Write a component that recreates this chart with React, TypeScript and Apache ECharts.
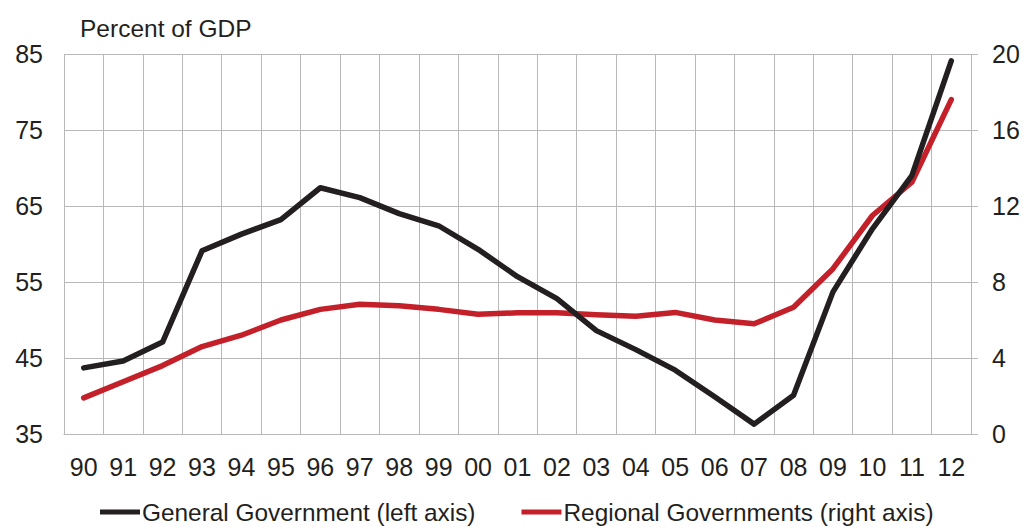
import React, { useEffect, useRef } from "react";
import * as echarts from "echarts";

const categories = ["90","91","92","93","94","95","96","97","98","99","00","01","02","03","04","05","06","07","08","09","10","11","12"];
const generalGov = [43.7, 44.6, 47.1, 59.1, 61.3, 63.2, 67.4, 66.1, 64.0, 62.4, 59.3, 55.7, 52.8, 48.6, 46.1, 43.4, 39.9, 36.3, 40.1, 53.7, 62.0, 69.0, 84.1];
const regionalGov = [1.9, 2.75, 3.6, 4.6, 5.2, 6.0, 6.56, 6.83, 6.75, 6.56, 6.3, 6.38, 6.38, 6.28, 6.2, 6.4, 6.0, 5.8, 6.67, 8.7, 11.5, 13.25, 17.6];
const leftTicks = { min: 35, max: 85, interval: 10 };
const rightTicks = { min: 0, max: 20, interval: 4 };

const FONT = "'Liberation Sans', Arial, Helvetica, sans-serif";
const TEXT = "#231f20";
const GRID = "#b8b8b8";

export default function App() {
  const ref = useRef<HTMLDivElement>(null);
  useEffect(() => {
    if (!ref.current) return;
    const chart = echarts.init(ref.current, null, { renderer: "svg" });
    chart.setOption({
      animation: false,
      backgroundColor: "#ffffff",
      textStyle: { fontFamily: FONT, color: TEXT },
      title: {
        text: "Percent of GDP",
        left: 75,
        top: 11,
        textStyle: { fontFamily: FONT, fontSize: 24.5, fontWeight: "normal", color: TEXT },
      },
      grid: { left: 64, right: 53, top: 54, bottom: 95, containLabel: false },
      legend: {
        bottom: 0,
        left: 95,
        itemWidth: 40,
        itemHeight: 5,
        itemGap: 46,
        icon: "rect",
        textStyle: { fontFamily: FONT, fontSize: 24.4, color: TEXT, padding: [0, 0, 0, -3] },
        data: ["General Government (left axis)", "Regional Governments (right axis)"],
      },
      xAxis: {
        type: "category",
        data: categories,
        boundaryGap: true,
        axisLine: { show: true, lineStyle: { color: GRID, width: 1 } },
        axisTick: { show: false },
        axisLabel: { fontFamily: FONT, fontSize: 25, color: TEXT, margin: 20, interval: 0 },
        splitLine: { show: true, lineStyle: { color: GRID, width: 1 } },
      },
      yAxis: [
        {
          type: "value",
          position: "left",
          min: leftTicks.min,
          max: leftTicks.max,
          interval: leftTicks.interval,
          axisLine: { show: false },
          axisTick: { show: false },
          axisLabel: { fontFamily: FONT, fontSize: 25, color: TEXT, margin: 21 },
          splitLine: { show: true, lineStyle: { color: GRID, width: 1 } },
        },
        {
          type: "value",
          position: "right",
          min: rightTicks.min,
          max: rightTicks.max,
          interval: rightTicks.interval,
          axisLine: { show: false },
          axisTick: { show: true, length: 7, inside: false, lineStyle: { color: GRID, width: 1 } },
          axisLabel: { fontFamily: FONT, fontSize: 25, color: TEXT, margin: 21 },
          splitLine: { show: false },
        },
      ],
      series: [
        {
          name: "General Government (left axis)",
          type: "line",
          yAxisIndex: 0,
          data: generalGov,
          showSymbol: false,
          symbol: "none",
          color: "#231f20",
          lineStyle: { color: "#231f20", width: 5.5, join: "round", cap: "round" },
          z: 3,
        },
        {
          name: "Regional Governments (right axis)",
          type: "line",
          yAxisIndex: 1,
          data: regionalGov,
          showSymbol: false,
          symbol: "none",
          color: "#c4202a",
          lineStyle: { color: "#c4202a", width: 5.5, join: "round", cap: "round" },
          z: 2,
        },
      ],
    });
    return () => chart.dispose();
  }, []);
  return <div ref={ref} style={{ width: 1024, height: 529, position: "absolute", left: 0, top: 0 }} />;
}
